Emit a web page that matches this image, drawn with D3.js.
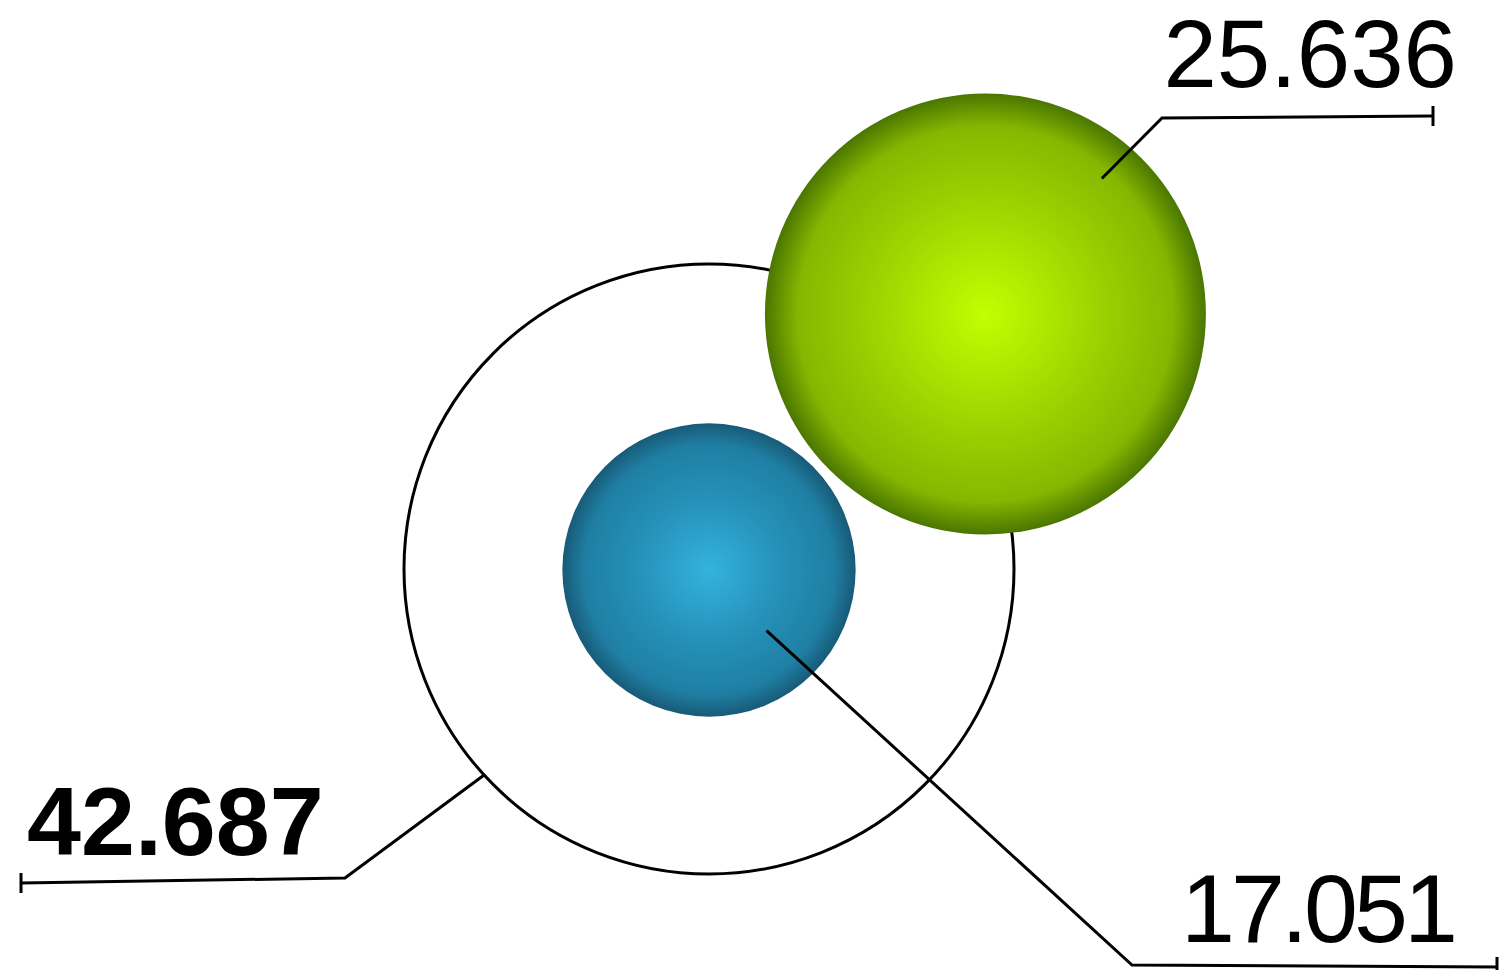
<!DOCTYPE html>
<meta charset="utf-8">
<script src="https://d3js.org/d3.v7.min.js"></script>
<style>
  body { margin: 0; background: #fff; }
  text { font-family: "Liberation Sans", Arial, sans-serif; }
</style>
<div id="chart"></div>
<script>
// data
const totalValue = 42.687;
const partValues = [17.051, 25.636];
const partKeys = ["blue", "green"];

const width = 1504, height = 970;

// colours for the sphere gradients (centre, middle, rim)
const palette = {
  blue:  ["#33b3dd", "#2590b8", "#1f7fa3", "#185a78"],
  green: ["#c2ff00", "#9fd300", "#86b700", "#4a7600"]
};

const svg = d3.select("#chart").append("svg")
  .attr("width", width)
  .attr("height", height);

const defs = svg.append("defs");
partKeys.forEach(k => {
  const g = defs.append("radialGradient")
    .attr("id", "grad-" + k)
    .attr("cx", "50%").attr("cy", "50%").attr("r", "50%");
  g.append("stop").attr("offset", "0%").attr("stop-color", palette[k][0]);
  g.append("stop").attr("offset", "50%").attr("stop-color", palette[k][1]);
  g.append("stop").attr("offset", "85%").attr("stop-color", palette[k][2]);
  g.append("stop").attr("offset", "100%").attr("stop-color", palette[k][3]);
});

// radius scales
const rPart = d3.scaleLinear().domain([0, 10]).range([0, 86]);
const rTotal = d3.scaleSqrt().domain([0, totalValue]).range([0, 305]);

const cx = 709, cy = 569;
const R = rTotal(totalValue);
const rb = rPart(partValues[0]);
const rg = rPart(partValues[1]);

// green sphere sits up-right of the blue one, slightly apart
const ang = -42.7 * Math.PI / 180;
const dist = rb + rg + 9;
const centers = [
  [cx, cy + 1],
  [cx + Math.cos(ang) * dist, cy + Math.sin(ang) * dist]
];

// outer ring
svg.append("circle")
  .attr("cx", cx).attr("cy", cy).attr("r", R)
  .attr("fill", "none")
  .attr("stroke", "#000")
  .attr("stroke-width", 3);

// spheres
svg.selectAll("circle.part")
  .data(partValues)
  .join("circle")
    .attr("class", "part")
    .attr("cx", (d, i) => centers[i][0])
    .attr("cy", (d, i) => centers[i][1])
    .attr("r", d => rPart(d))
    .attr("fill", (d, i) => "url(#grad-" + partKeys[i] + ")");

// leader lines: anchor (angle, fraction of radius), elbow, end
const leaders = [
  { c: centers[0], r: rb, a: 46.5, f: 0.57, elbow: [1132, 965], end: [1497, 967] },
  { c: centers[1], r: rg, a: -49.3, f: 0.81, elbow: [1162, 118], end: [1433, 116] },
  { c: [cx, cy], r: R, a: 137.5, f: 1.0, elbow: [345, 878], end: [21, 883] }
];

const line = d3.line();
leaders.forEach(l => {
  const t = l.a * Math.PI / 180;
  const p0 = [l.c[0] + Math.cos(t) * l.r * l.f, l.c[1] + Math.sin(t) * l.r * l.f];
  svg.append("path")
    .attr("d", line([p0, l.elbow, l.end]))
    .attr("fill", "none")
    .attr("stroke", "#000")
    .attr("stroke-width", 3)
    .attr("stroke-linejoin", "miter");
  svg.append("line")
    .attr("x1", l.end[0]).attr("x2", l.end[0])
    .attr("y1", l.end[1] - 10).attr("y2", l.end[1] + 10)
    .attr("stroke", "#000")
    .attr("stroke-width", 3);
});

// labels
const fmt = d3.format(".3f");
const labels = [
  { v: partValues[0], x: 1458, y: 942, size: 97, anchor: "end", weight: "normal", len: 277 },
  { v: partValues[1], x: 1457, y: 87, size: 96, anchor: "end", weight: "normal", len: null },
  { v: totalValue, x: 27, y: 855, size: 97, anchor: "start", weight: "bold", len: null }
];
svg.selectAll("text.val")
  .data(labels)
  .join("text")
    .attr("class", "val")
    .attr("x", d => d.x)
    .attr("y", d => d.y)
    .attr("text-anchor", d => d.anchor)
    .attr("textLength", d => d.len)
    .attr("lengthAdjust", "spacing")
    .style("font-size", d => d.size + "px")
    .style("font-weight", d => d.weight)
    .text(d => fmt(d.v));
</script>
